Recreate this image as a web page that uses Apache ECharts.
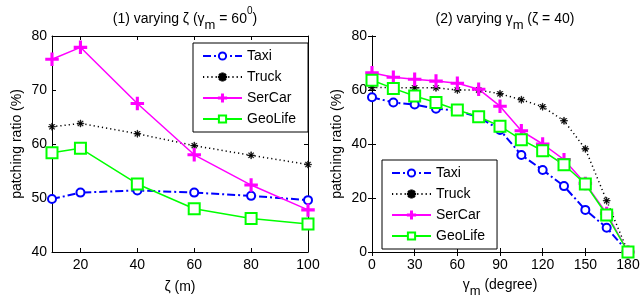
<!DOCTYPE html>
<html><head><meta charset="utf-8">
<script src="https://cdn.jsdelivr.net/npm/echarts@6/dist/echarts.min.js"></script>
<style>html,body{margin:0;padding:0;background:#fff}#c{width:641px;height:300px}</style>
</head><body><div id="c"></div>
<script>
// ---- data ----
const zetaX = [10, 20, 40, 60, 80, 100];
const zetaTaxi = [49.8, 51.0, 51.4, 51.0, 50.4, 49.6];
const zetaTruck = [63.2, 63.8, 61.9, 59.7, 57.9, 56.2];
const zetaSerCar = [75.7, 77.9, 67.5, 58.0, 52.4, 47.8];
const zetaGeoLife = [58.4, 59.2, 52.6, 48.0, 46.2, 45.2];

const gammaX = [0, 15, 30, 45, 60, 75, 90, 105, 120, 135, 150, 165, 180];
const gammaTaxi = [57.3, 55.4, 54.6, 53.1, 52.3, 50.0, 45.2, 35.9, 30.4, 24.4, 15.6, 9.0, 0];
const gammaTruck = [60.9, 60.9, 60.8, 60.8, 60.0, 60.0, 58.6, 56.4, 53.8, 48.6, 38.2, 19.0, 0];
const gammaSerCar = [66.4, 64.7, 64.0, 63.3, 62.5, 60.3, 54.0, 44.9, 40.0, 34.2, 25.4, 14.3, 0];
const gammaGeoLife = [63.6, 60.6, 57.8, 55.4, 52.6, 50.1, 46.6, 41.6, 37.5, 32.3, 25.2, 13.7, 0];

const leftXTicks = [20, 40, 60, 80, 100];
const seriesNames = ['Taxi', 'Truck', 'SerCar', 'GeoLife'];

// ---- styles ----
const FONT = 'Liberation Sans, Arial, sans-serif';
const asterisk = 'path://M-0.45,-5 L0.45,-5 L0.45,5 L-0.45,5 Z M-5,-0.45 L5,-0.45 L5,0.45 L-5,0.45 Z M-3.22,-3.86 L3.86,3.22 L3.22,3.86 L-3.86,-3.22 Z M-3.86,3.22 L3.22,-3.86 L3.86,-3.22 L-3.22,3.86 Z';
const plus = 'path://M-0.8,-6 L0.8,-6 L0.8,6 L-0.8,6 Z M-6,-0.8 L6,-0.8 L6,0.8 L-6,0.8 Z';
const styles = {
  Taxi: {color: '#0000ff', type: [8, 3, 2, 3], width: 2, symbol: 'emptyCircle', size: 8},
  Truck: {color: '#000000', type: [1.2, 3], width: 1.5, symbol: asterisk, size: 7},
  SerCar: {color: '#ff00ff', type: 'solid', width: 1.5, symbol: plus, size: 12},
  GeoLife: {color: '#00ff00', type: 'solid', width: 1.5, symbol: 'emptyRect', size: 11}
};
function mk(name, xs, ys, idx) {
  const s = styles[name];
  return {
    name: name, type: 'line', xAxisIndex: idx, yAxisIndex: idx,
    data: xs.map((x, i) => [x, ys[i]]),
    symbol: s.symbol, symbolSize: s.size, showAllSymbol: true,
    lineStyle: {color: s.color, type: s.type, width: s.width},
    itemStyle: {color: s.color, borderColor: s.color, borderWidth: name === 'Truck' ? 0.6 : 1.5},
    emphasis: {disabled: true}, animation: false, z: 3
  };
}
const axisLine = {show: true, lineStyle: {color: '#000', width: 1}};
const tick = {show: true, inside: true, length: 4, lineStyle: {color: '#000'}};
const label = {color: '#000', fontSize: 14, fontFamily: FONT};
const richTok = {
  b: {fontSize: 14, fontFamily: FONT, color: '#000', fontWeight: 'normal', lineHeight: 26},
  sub: {fontSize: 13, fontFamily: FONT, color: '#000', fontWeight: 'normal', lineHeight: 12, verticalAlign: 'bottom'},
  sup: {fontSize: 10, fontFamily: FONT, color: '#000', fontWeight: 'normal', lineHeight: 12, verticalAlign: 'top'}
};
const nameStyle = {color: '#000', fontSize: 14, fontFamily: FONT, rich: richTok};

const chart = echarts.init(document.getElementById('c'), null, {renderer: 'canvas'});
chart.setOption({
  backgroundColor: '#fff',
  animation: false,
  title: [
    {text: '{b|(1) varying ζ (γ}{sub|m}{b| = 60}{sup|0}{b|)}', left: 180, top: 1, textAlign: 'center',
     textStyle: {fontWeight: 'normal', rich: richTok}},
    {text: '{b|(2) varying γ}{sub|m}{b| (ζ = 40)}', left: 500, top: 1, textAlign: 'center',
     textStyle: {fontWeight: 'normal', rich: richTok}}
  ],
  grid: [
    {left: 52, right: 333, top: 36, bottom: 48, outerBoundsMode: 'none', containLabel: false},
    {left: 372, right: 13, top: 36, bottom: 48, outerBoundsMode: 'none', containLabel: false}
  ],
  xAxis: [
    {gridIndex: 0, type: 'value', min: 10, max: 100, axisLine: axisLine,
     axisTick: Object.assign({customValues: leftXTicks}, tick),
     axisLabel: Object.assign({customValues: leftXTicks, margin: 6}, label), splitLine: {show: false},
     name: 'ζ (m)', nameLocation: 'middle', nameGap: 28, nameTextStyle: nameStyle},
    {gridIndex: 1, type: 'value', min: 0, max: 180, interval: 30, axisLine: axisLine, axisTick: tick,
     axisLabel: Object.assign({margin: 6}, label), splitLine: {show: false},
     name: '{b|γ}{sub|m}{b| (degree)}', nameLocation: 'middle', nameGap: 20, nameTextStyle: nameStyle},
    {gridIndex: 0, type: 'value', position: 'top', min: 10, max: 100, axisLine: axisLine,
     axisTick: Object.assign({customValues: leftXTicks}, tick), axisLabel: {show: false}, splitLine: {show: false}},
    {gridIndex: 1, type: 'value', position: 'top', min: 0, max: 180, interval: 30, axisLine: axisLine,
     axisTick: tick, axisLabel: {show: false}, splitLine: {show: false}}
  ],
  yAxis: [
    {gridIndex: 0, type: 'value', min: 40, max: 80, interval: 10, axisLine: axisLine, axisTick: tick,
     axisLabel: Object.assign({margin: 5}, label), splitLine: {show: false},
     name: 'patching ratio (%)', nameLocation: 'middle', nameGap: 28, nameTextStyle: nameStyle},
    {gridIndex: 1, type: 'value', min: 0, max: 80, interval: 20, axisLine: axisLine, axisTick: tick,
     axisLabel: Object.assign({margin: 5}, label), splitLine: {show: false},
     name: 'patching ratio (%)', nameLocation: 'middle', nameGap: 28, nameTextStyle: nameStyle},
    {gridIndex: 0, type: 'value', position: 'right', min: 40, max: 80, interval: 10, axisLine: axisLine,
     axisTick: tick, axisLabel: {show: false}, splitLine: {show: false}},
    {gridIndex: 1, type: 'value', position: 'right', min: 0, max: 80, interval: 20, axisLine: axisLine,
     axisTick: tick, axisLabel: {show: false}, splitLine: {show: false}}
  ],
  legend: [
    {data: seriesNames, orient: 'vertical', left: 193, top: 43, itemWidth: 39, itemHeight: 9, itemGap: 5,
     padding: [5, 12, 5, 9], borderColor: '#000', borderWidth: 1, backgroundColor: '#fff',
     textStyle: {color: '#000', fontSize: 14, fontFamily: FONT, lineHeight: 16}, selectedMode: false, z: 10},
    {data: seriesNames, orient: 'vertical', left: 382, top: 160, itemWidth: 39, itemHeight: 9, itemGap: 5,
     padding: [5, 12, 5, 9], borderColor: '#000', borderWidth: 1, backgroundColor: '#fff',
     textStyle: {color: '#000', fontSize: 14, fontFamily: FONT, lineHeight: 16}, selectedMode: false, z: 10}
  ],
  series: [
    mk('Taxi', zetaX, zetaTaxi, 0), mk('Truck', zetaX, zetaTruck, 0),
    mk('SerCar', zetaX, zetaSerCar, 0), mk('GeoLife', zetaX, zetaGeoLife, 0),
    mk('Taxi', gammaX, gammaTaxi, 1), mk('Truck', gammaX, gammaTruck, 1),
    mk('SerCar', gammaX, gammaSerCar, 1), mk('GeoLife', gammaX, gammaGeoLife, 1)
  ]
});
</script></body></html>
